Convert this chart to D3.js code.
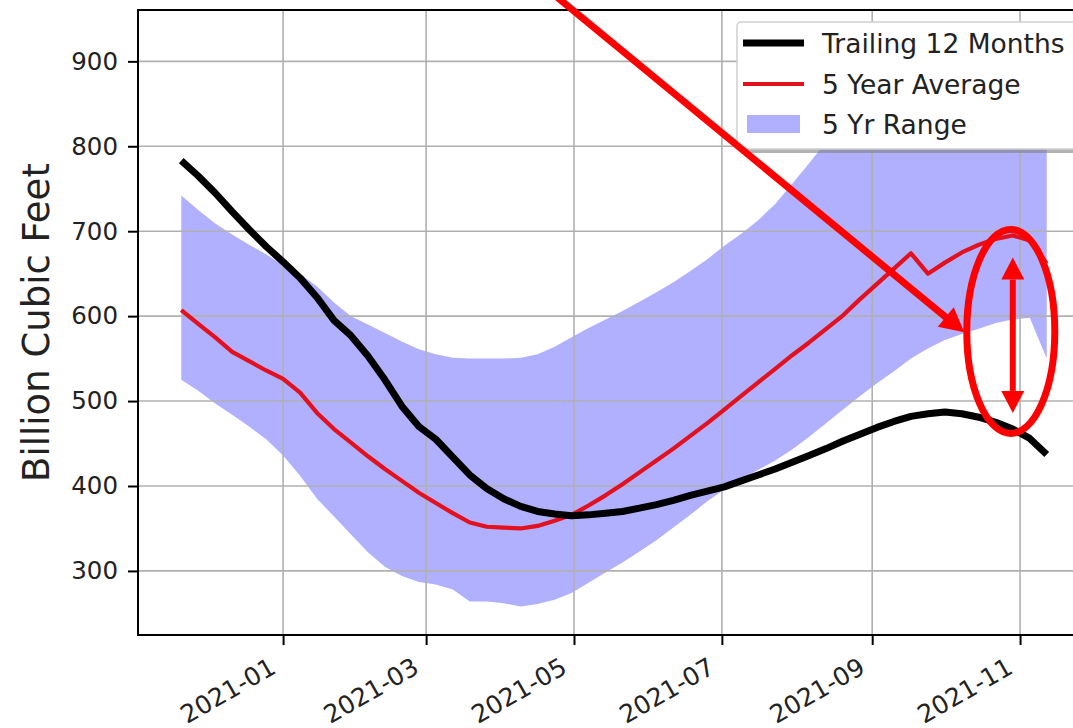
<!DOCTYPE html>
<html>
<head>
<meta charset="utf-8">
<script src="https://cdn.jsdelivr.net/npm/d3@7"></script>
<style>
  body { margin: 0; background: #fff; }
  text { font-family: "DejaVu Sans", sans-serif; fill: #222; }
</style>
</head>
<body>
<div id="chart"></div>
<script>
// weekly storage, Billion Cubic Feet, first week ending 2020-11-20
var firstWeek = "2020-11-20";

var trailing12 = [783, 765, 745, 723, 702, 682, 664, 645, 622, 595, 577, 553, 525,
  494, 470, 455, 434, 413, 397, 385, 376, 370, 367, 365, 366, 368, 370, 374, 378,
  383, 389, 394, 399, 406, 413, 420, 428, 436, 444, 453, 461, 469, 476, 482, 485,
  487, 485, 481, 475, 467, 456, 437];

var fiveYearAvg = [607, 591, 575, 558, 547, 536, 526, 510, 486, 467, 451, 435, 420,
  406, 392, 380, 368, 357, 352, 351, 350, 353, 359, 366, 377, 389, 402, 416, 430,
  444, 459, 474, 490, 506, 522, 538, 554, 569, 585, 601, 620, 638, 656, 674, 650,
  663, 675, 684, 691, 695, 689, 662];

var fiveYrMin = [525, 512, 497, 484, 470, 455, 436, 412, 385, 364, 343, 322, 305,
  294, 287, 284, 278, 264, 264, 262, 258, 261, 266, 274, 286, 298, 310, 323, 336,
  351, 366, 382, 396, 408, 419, 430, 443, 458, 474, 490, 506, 521, 535, 550, 562,
  572, 579, 585, 592, 596, 598, 550];

var fiveYrMax = [742, 725, 709, 696, 684, 673, 660, 650, 635, 616, 600, 590, 580,
  570, 561, 555, 551, 550, 550, 550, 551, 555, 564, 575, 586, 596, 606, 617, 628,
  640, 653, 667, 683, 697, 713, 732, 756, 780, 805, 822, 842, 860, 876, 890, 902,
  912, 919, 924, 927, 926, 920, 905];

var yTicks = [300, 400, 500, 600, 700, 800, 900];
var xTickDates = ["2021-01-01", "2021-03-01", "2021-05-01", "2021-07-01", "2021-09-01", "2021-11-01"];
var legendLabels = ["Trailing 12 Months", "5 Year Average", "5 Yr Range"];

var W = 1073, H = 728;
var plot = { left: 138, right: 1090, top: 10, bottom: 635 };

var parse = d3.timeParse("%Y-%m-%d");
var fmt = d3.timeFormat("%Y-%m");
var dates = trailing12.map(function (d, i) { return d3.timeDay.offset(parse(firstWeek), 7 * i); });
var rows = dates.map(function (d, i) {
  return { date: d, t12: trailing12[i], avg: fiveYearAvg[i], lo: fiveYrMin[i], hi: fiveYrMax[i] };
});

// matplotlib style 5% margins
var t0 = dates[0], t1 = dates[dates.length - 1];
var span = t1 - t0;
var x = d3.scaleTime()
  .domain([new Date(+t0 - 0.05 * span), new Date(+t1 + 0.05 * span)])
  .range([plot.left, plot.right]);

var vmin = d3.min(fiveYrMin), vmax = d3.max(fiveYrMax);
var vr = vmax - vmin;
var y = d3.scaleLinear()
  .domain([vmin - 0.05 * vr, vmax + 0.05 * vr])
  .range([plot.bottom, plot.top]);

var svg = d3.select("#chart").append("svg")
  .attr("width", W)
  .attr("height", H);

svg.append("rect").attr("width", W).attr("height", H).attr("fill", "#fff");

svg.append("defs").append("clipPath").attr("id", "clip")
  .append("rect")
  .attr("x", plot.left).attr("y", plot.top)
  .attr("width", plot.right - plot.left).attr("height", plot.bottom - plot.top);

var g = svg.append("g").attr("clip-path", "url(#clip)");

// range band
g.append("path")
  .datum(rows)
  .attr("fill", "blue")
  .attr("fill-opacity", 0.31)
  .attr("d", d3.area()
    .x(function (d) { return x(d.date); })
    .y0(function (d) { return y(d.lo); })
    .y1(function (d) { return y(d.hi); }));

// grid
var xTicks = xTickDates.map(parse);
g.selectAll(".vgrid").data(xTicks).enter().append("line")
  .attr("class", "vgrid")
  .attr("x1", function (d) { return x(d); }).attr("x2", function (d) { return x(d); })
  .attr("y1", plot.top).attr("y2", plot.bottom)
  .attr("stroke", "#b0b0b0").attr("stroke-width", 1.6);
g.selectAll(".hgrid").data(yTicks).enter().append("line")
  .attr("class", "hgrid")
  .attr("y1", function (d) { return y(d); }).attr("y2", function (d) { return y(d); })
  .attr("x1", plot.left).attr("x2", plot.right)
  .attr("stroke", "#b0b0b0").attr("stroke-width", 1.6);

var line = function (key) {
  return d3.line().x(function (d) { return x(d.date); }).y(function (d) { return y(d[key]); });
};

g.append("path").datum(rows)
  .attr("fill", "none").attr("stroke", "#e3101e").attr("stroke-width", 4.2)
  .attr("stroke-linejoin", "round")
  .attr("d", line("avg"));

g.append("path").datum(rows)
  .attr("fill", "none").attr("stroke", "#000").attr("stroke-width", 7)
  .attr("stroke-linejoin", "round")
  .attr("d", line("t12"));

// spines
svg.append("rect")
  .attr("x", plot.left).attr("y", plot.top)
  .attr("width", plot.right - plot.left).attr("height", plot.bottom - plot.top)
  .attr("fill", "none").attr("stroke", "#000").attr("stroke-width", 2);

// y axis
var yAxis = svg.append("g")
  .attr("transform", "translate(" + plot.left + ",0)")
  .call(d3.axisLeft(y).tickValues(yTicks).tickSize(10).tickPadding(10));
yAxis.select(".domain").remove();
yAxis.selectAll(".tick line").attr("stroke", "#000").attr("stroke-width", 2);
yAxis.selectAll(".tick text")
  .attr("font-size", 24.5).attr("font-family", "DejaVu Sans").attr("fill", "#222");

// x axis
var xAxis = svg.append("g")
  .attr("transform", "translate(0," + plot.bottom + ")")
  .call(d3.axisBottom(x).tickValues(xTicks).tickFormat(fmt).tickSize(10));
xAxis.select(".domain").remove();
xAxis.selectAll(".tick line").attr("stroke", "#000").attr("stroke-width", 2);
xAxis.selectAll(".tick text")
  .attr("font-size", 25).attr("font-family", "DejaVu Sans").attr("fill", "#222")
  .attr("text-anchor", "end")
  .attr("x", -6).attr("y", 37).attr("dy", 0)
  .attr("transform", "rotate(-30 -6 37)");

svg.append("text")
  .attr("transform", "translate(49," + ((plot.top + plot.bottom) / 2) + ") rotate(-90)")
  .attr("text-anchor", "middle")
  .attr("font-size", 37)
  .attr("fill", "#111")
  .text("Billion Cubic Feet");

// legend
var lg = svg.append("g").attr("transform", "translate(737,22)");
lg.append("rect").attr("x", 4).attr("y", 4).attr("width", 345).attr("height", 127)
  .attr("rx", 4).attr("fill", "#808080").attr("fill-opacity", 0.6);
lg.append("rect").attr("width", 345).attr("height", 127)
  .attr("rx", 4).attr("fill", "#fff").attr("stroke", "#d0d0d0").attr("stroke-width", 1.5);
var handleY = [21, 62, 102];
lg.append("line").attr("x1", 6).attr("x2", 67).attr("y1", handleY[0]).attr("y2", handleY[0])
  .attr("stroke", "#000").attr("stroke-width", 7);
lg.append("line").attr("x1", 6).attr("x2", 67).attr("y1", handleY[1]).attr("y2", handleY[1])
  .attr("stroke", "#e3101e").attr("stroke-width", 4.2);
lg.append("rect").attr("x", 10).attr("y", handleY[2] - 9).attr("width", 53).attr("height", 18)
  .attr("fill", "blue").attr("fill-opacity", 0.31);
lg.selectAll(".lt").data(legendLabels).enter().append("text")
  .attr("class", "lt")
  .attr("x", 85)
  .attr("y", function (d, i) { return handleY[i] + 10; })
  .attr("font-size", 26.5)
  .text(function (d) { return d; });

// hand-drawn red annotation
var ann = svg.append("g").attr("fill", "red").attr("stroke", "red");
var focusDate = parse("2021-10-29");
var cx = x(focusDate), cy = y(582);
ann.append("ellipse")
  .attr("cx", cx - 2).attr("cy", cy).attr("rx", 44).attr("ry", 102)
  .attr("fill", "none").attr("stroke-width", 7);

function arrowHead(sel, tip, from, len, wid) {
  var dx = tip[0] - from[0], dy = tip[1] - from[1];
  var L = Math.sqrt(dx * dx + dy * dy);
  var ux = dx / L, uy = dy / L;
  var bx = tip[0] - ux * len, by = tip[1] - uy * len;
  var pts = [tip, [bx - uy * wid / 2, by + ux * wid / 2], [bx + uy * wid / 2, by - ux * wid / 2]];
  sel.append("path").attr("stroke", "none").attr("d", "M" + pts.join("L") + "Z");
  return [bx, by];
}

var bigFrom = [x(parse("2021-04-20")), y(985)];
var bigTip = [x(parse("2021-10-09")), y(581)];
var bigBase = arrowHead(ann, bigTip, bigFrom, 24, 25);
ann.append("line")
  .attr("x1", bigFrom[0]).attr("y1", bigFrom[1]).attr("x2", bigBase[0] + 1).attr("y2", bigBase[1] + 1)
  .attr("stroke-width", 7);

var upTip = [cx, y(669)], downTip = [cx, y(486)];
var b1 = arrowHead(ann, upTip, downTip, 22, 23);
var b2 = arrowHead(ann, downTip, upTip, 22, 23);
ann.append("line")
  .attr("x1", cx).attr("y1", b1[1]).attr("x2", cx).attr("y2", b2[1])
  .attr("stroke-width", 6);
</script>
</body>
</html>
